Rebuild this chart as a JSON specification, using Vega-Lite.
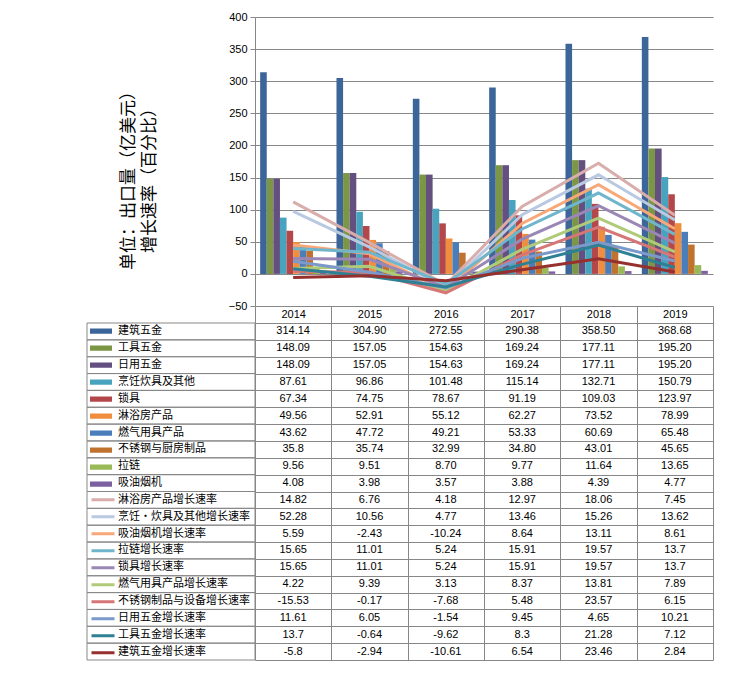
{
"$schema": "https://vega.github.io/schema/vega-lite/v6.json",
"padding": {"left": 86, "top": 11, "right": 10, "bottom": 10},
"datasets": {"rows": [
{"series":"建筑五金","kind":"bar","order":1,"year":"2014","value":314.14,"label":"314.14"},
{"series":"建筑五金","kind":"bar","order":1,"year":"2015","value":304.90,"label":"304.90"},
{"series":"建筑五金","kind":"bar","order":1,"year":"2016","value":272.55,"label":"272.55"},
{"series":"建筑五金","kind":"bar","order":1,"year":"2017","value":290.38,"label":"290.38"},
{"series":"建筑五金","kind":"bar","order":1,"year":"2018","value":358.50,"label":"358.50"},
{"series":"建筑五金","kind":"bar","order":1,"year":"2019","value":368.68,"label":"368.68"},
{"series":"工具五金","kind":"bar","order":2,"year":"2014","value":148.09,"label":"148.09"},
{"series":"工具五金","kind":"bar","order":2,"year":"2015","value":157.05,"label":"157.05"},
{"series":"工具五金","kind":"bar","order":2,"year":"2016","value":154.63,"label":"154.63"},
{"series":"工具五金","kind":"bar","order":2,"year":"2017","value":169.24,"label":"169.24"},
{"series":"工具五金","kind":"bar","order":2,"year":"2018","value":177.11,"label":"177.11"},
{"series":"工具五金","kind":"bar","order":2,"year":"2019","value":195.20,"label":"195.20"},
{"series":"日用五金","kind":"bar","order":3,"year":"2014","value":148.09,"label":"148.09"},
{"series":"日用五金","kind":"bar","order":3,"year":"2015","value":157.05,"label":"157.05"},
{"series":"日用五金","kind":"bar","order":3,"year":"2016","value":154.63,"label":"154.63"},
{"series":"日用五金","kind":"bar","order":3,"year":"2017","value":169.24,"label":"169.24"},
{"series":"日用五金","kind":"bar","order":3,"year":"2018","value":177.11,"label":"177.11"},
{"series":"日用五金","kind":"bar","order":3,"year":"2019","value":195.20,"label":"195.20"},
{"series":"烹饪炊具及其他","kind":"bar","order":4,"year":"2014","value":87.61,"label":"87.61"},
{"series":"烹饪炊具及其他","kind":"bar","order":4,"year":"2015","value":96.86,"label":"96.86"},
{"series":"烹饪炊具及其他","kind":"bar","order":4,"year":"2016","value":101.48,"label":"101.48"},
{"series":"烹饪炊具及其他","kind":"bar","order":4,"year":"2017","value":115.14,"label":"115.14"},
{"series":"烹饪炊具及其他","kind":"bar","order":4,"year":"2018","value":132.71,"label":"132.71"},
{"series":"烹饪炊具及其他","kind":"bar","order":4,"year":"2019","value":150.79,"label":"150.79"},
{"series":"锁具","kind":"bar","order":5,"year":"2014","value":67.34,"label":"67.34"},
{"series":"锁具","kind":"bar","order":5,"year":"2015","value":74.75,"label":"74.75"},
{"series":"锁具","kind":"bar","order":5,"year":"2016","value":78.67,"label":"78.67"},
{"series":"锁具","kind":"bar","order":5,"year":"2017","value":91.19,"label":"91.19"},
{"series":"锁具","kind":"bar","order":5,"year":"2018","value":109.03,"label":"109.03"},
{"series":"锁具","kind":"bar","order":5,"year":"2019","value":123.97,"label":"123.97"},
{"series":"淋浴房产品","kind":"bar","order":6,"year":"2014","value":49.56,"label":"49.56"},
{"series":"淋浴房产品","kind":"bar","order":6,"year":"2015","value":52.91,"label":"52.91"},
{"series":"淋浴房产品","kind":"bar","order":6,"year":"2016","value":55.12,"label":"55.12"},
{"series":"淋浴房产品","kind":"bar","order":6,"year":"2017","value":62.27,"label":"62.27"},
{"series":"淋浴房产品","kind":"bar","order":6,"year":"2018","value":73.52,"label":"73.52"},
{"series":"淋浴房产品","kind":"bar","order":6,"year":"2019","value":78.99,"label":"78.99"},
{"series":"燃气用具产品","kind":"bar","order":7,"year":"2014","value":43.62,"label":"43.62"},
{"series":"燃气用具产品","kind":"bar","order":7,"year":"2015","value":47.72,"label":"47.72"},
{"series":"燃气用具产品","kind":"bar","order":7,"year":"2016","value":49.21,"label":"49.21"},
{"series":"燃气用具产品","kind":"bar","order":7,"year":"2017","value":53.33,"label":"53.33"},
{"series":"燃气用具产品","kind":"bar","order":7,"year":"2018","value":60.69,"label":"60.69"},
{"series":"燃气用具产品","kind":"bar","order":7,"year":"2019","value":65.48,"label":"65.48"},
{"series":"不锈钢与厨房制品","kind":"bar","order":8,"year":"2014","value":35.8,"label":"35.8"},
{"series":"不锈钢与厨房制品","kind":"bar","order":8,"year":"2015","value":35.74,"label":"35.74"},
{"series":"不锈钢与厨房制品","kind":"bar","order":8,"year":"2016","value":32.99,"label":"32.99"},
{"series":"不锈钢与厨房制品","kind":"bar","order":8,"year":"2017","value":34.80,"label":"34.80"},
{"series":"不锈钢与厨房制品","kind":"bar","order":8,"year":"2018","value":43.01,"label":"43.01"},
{"series":"不锈钢与厨房制品","kind":"bar","order":8,"year":"2019","value":45.65,"label":"45.65"},
{"series":"拉链","kind":"bar","order":9,"year":"2014","value":9.56,"label":"9.56"},
{"series":"拉链","kind":"bar","order":9,"year":"2015","value":9.51,"label":"9.51"},
{"series":"拉链","kind":"bar","order":9,"year":"2016","value":8.70,"label":"8.70"},
{"series":"拉链","kind":"bar","order":9,"year":"2017","value":9.77,"label":"9.77"},
{"series":"拉链","kind":"bar","order":9,"year":"2018","value":11.64,"label":"11.64"},
{"series":"拉链","kind":"bar","order":9,"year":"2019","value":13.65,"label":"13.65"},
{"series":"吸油烟机","kind":"bar","order":10,"year":"2014","value":4.08,"label":"4.08"},
{"series":"吸油烟机","kind":"bar","order":10,"year":"2015","value":3.98,"label":"3.98"},
{"series":"吸油烟机","kind":"bar","order":10,"year":"2016","value":3.57,"label":"3.57"},
{"series":"吸油烟机","kind":"bar","order":10,"year":"2017","value":3.88,"label":"3.88"},
{"series":"吸油烟机","kind":"bar","order":10,"year":"2018","value":4.39,"label":"4.39"},
{"series":"吸油烟机","kind":"bar","order":10,"year":"2019","value":4.77,"label":"4.77"},
{"series":"淋浴房产品增长速率","kind":"line","order":11,"year":"2014","value":14.82,"label":"14.82"},
{"series":"淋浴房产品增长速率","kind":"line","order":11,"year":"2015","value":6.76,"label":"6.76"},
{"series":"淋浴房产品增长速率","kind":"line","order":11,"year":"2016","value":4.18,"label":"4.18"},
{"series":"淋浴房产品增长速率","kind":"line","order":11,"year":"2017","value":12.97,"label":"12.97"},
{"series":"淋浴房产品增长速率","kind":"line","order":11,"year":"2018","value":18.06,"label":"18.06"},
{"series":"淋浴房产品增长速率","kind":"line","order":11,"year":"2019","value":7.45,"label":"7.45"},
{"series":"烹饪·炊具及其他增长速率","kind":"line","order":12,"year":"2014","value":52.28,"label":"52.28"},
{"series":"烹饪·炊具及其他增长速率","kind":"line","order":12,"year":"2015","value":10.56,"label":"10.56"},
{"series":"烹饪·炊具及其他增长速率","kind":"line","order":12,"year":"2016","value":4.77,"label":"4.77"},
{"series":"烹饪·炊具及其他增长速率","kind":"line","order":12,"year":"2017","value":13.46,"label":"13.46"},
{"series":"烹饪·炊具及其他增长速率","kind":"line","order":12,"year":"2018","value":15.26,"label":"15.26"},
{"series":"烹饪·炊具及其他增长速率","kind":"line","order":12,"year":"2019","value":13.62,"label":"13.62"},
{"series":"吸油烟机增长速率","kind":"line","order":13,"year":"2014","value":5.59,"label":"5.59"},
{"series":"吸油烟机增长速率","kind":"line","order":13,"year":"2015","value":-2.43,"label":"-2.43"},
{"series":"吸油烟机增长速率","kind":"line","order":13,"year":"2016","value":-10.24,"label":"-10.24"},
{"series":"吸油烟机增长速率","kind":"line","order":13,"year":"2017","value":8.64,"label":"8.64"},
{"series":"吸油烟机增长速率","kind":"line","order":13,"year":"2018","value":13.11,"label":"13.11"},
{"series":"吸油烟机增长速率","kind":"line","order":13,"year":"2019","value":8.61,"label":"8.61"},
{"series":"拉链增长速率","kind":"line","order":14,"year":"2014","value":15.65,"label":"15.65"},
{"series":"拉链增长速率","kind":"line","order":14,"year":"2015","value":11.01,"label":"11.01"},
{"series":"拉链增长速率","kind":"line","order":14,"year":"2016","value":5.24,"label":"5.24"},
{"series":"拉链增长速率","kind":"line","order":14,"year":"2017","value":15.91,"label":"15.91"},
{"series":"拉链增长速率","kind":"line","order":14,"year":"2018","value":19.57,"label":"19.57"},
{"series":"拉链增长速率","kind":"line","order":14,"year":"2019","value":13.7,"label":"13.7"},
{"series":"锁具增长速率","kind":"line","order":15,"year":"2014","value":15.65,"label":"15.65"},
{"series":"锁具增长速率","kind":"line","order":15,"year":"2015","value":11.01,"label":"11.01"},
{"series":"锁具增长速率","kind":"line","order":15,"year":"2016","value":5.24,"label":"5.24"},
{"series":"锁具增长速率","kind":"line","order":15,"year":"2017","value":15.91,"label":"15.91"},
{"series":"锁具增长速率","kind":"line","order":15,"year":"2018","value":19.57,"label":"19.57"},
{"series":"锁具增长速率","kind":"line","order":15,"year":"2019","value":13.7,"label":"13.7"},
{"series":"燃气用具产品增长速率","kind":"line","order":16,"year":"2014","value":4.22,"label":"4.22"},
{"series":"燃气用具产品增长速率","kind":"line","order":16,"year":"2015","value":9.39,"label":"9.39"},
{"series":"燃气用具产品增长速率","kind":"line","order":16,"year":"2016","value":3.13,"label":"3.13"},
{"series":"燃气用具产品增长速率","kind":"line","order":16,"year":"2017","value":8.37,"label":"8.37"},
{"series":"燃气用具产品增长速率","kind":"line","order":16,"year":"2018","value":13.81,"label":"13.81"},
{"series":"燃气用具产品增长速率","kind":"line","order":16,"year":"2019","value":7.89,"label":"7.89"},
{"series":"不锈钢制品与设备增长速率","kind":"line","order":17,"year":"2014","value":-15.53,"label":"-15.53"},
{"series":"不锈钢制品与设备增长速率","kind":"line","order":17,"year":"2015","value":-0.17,"label":"-0.17"},
{"series":"不锈钢制品与设备增长速率","kind":"line","order":17,"year":"2016","value":-7.68,"label":"-7.68"},
{"series":"不锈钢制品与设备增长速率","kind":"line","order":17,"year":"2017","value":5.48,"label":"5.48"},
{"series":"不锈钢制品与设备增长速率","kind":"line","order":17,"year":"2018","value":23.57,"label":"23.57"},
{"series":"不锈钢制品与设备增长速率","kind":"line","order":17,"year":"2019","value":6.15,"label":"6.15"},
{"series":"日用五金增长速率","kind":"line","order":18,"year":"2014","value":11.61,"label":"11.61"},
{"series":"日用五金增长速率","kind":"line","order":18,"year":"2015","value":6.05,"label":"6.05"},
{"series":"日用五金增长速率","kind":"line","order":18,"year":"2016","value":-1.54,"label":"-1.54"},
{"series":"日用五金增长速率","kind":"line","order":18,"year":"2017","value":9.45,"label":"9.45"},
{"series":"日用五金增长速率","kind":"line","order":18,"year":"2018","value":4.65,"label":"4.65"},
{"series":"日用五金增长速率","kind":"line","order":18,"year":"2019","value":10.21,"label":"10.21"},
{"series":"工具五金增长速率","kind":"line","order":19,"year":"2014","value":13.7,"label":"13.7"},
{"series":"工具五金增长速率","kind":"line","order":19,"year":"2015","value":-0.64,"label":"-0.64"},
{"series":"工具五金增长速率","kind":"line","order":19,"year":"2016","value":-9.62,"label":"-9.62"},
{"series":"工具五金增长速率","kind":"line","order":19,"year":"2017","value":8.3,"label":"8.3"},
{"series":"工具五金增长速率","kind":"line","order":19,"year":"2018","value":21.28,"label":"21.28"},
{"series":"工具五金增长速率","kind":"line","order":19,"year":"2019","value":7.12,"label":"7.12"},
{"series":"建筑五金增长速率","kind":"line","order":20,"year":"2014","value":-5.8,"label":"-5.8"},
{"series":"建筑五金增长速率","kind":"line","order":20,"year":"2015","value":-2.94,"label":"-2.94"},
{"series":"建筑五金增长速率","kind":"line","order":20,"year":"2016","value":-10.61,"label":"-10.61"},
{"series":"建筑五金增长速率","kind":"line","order":20,"year":"2017","value":6.54,"label":"6.54"},
{"series":"建筑五金增长速率","kind":"line","order":20,"year":"2018","value":23.46,"label":"23.46"},
{"series":"建筑五金增长速率","kind":"line","order":20,"year":"2019","value":2.84,"label":"2.84"}
]},
"columns": 2,
"spacing": {"row": 17, "column": 0},
"bounds": "flush",
"align": "each",
"resolve": {"scale": {"x": "independent", "y": "independent", "color": "independent"}},
"concat": [
{
 "width": 168, "height": 289,
 "data": {"values": [{}]},
 "mark": {"type": "text"},
 "encoding": {"text": {"value": ""}}
},
{
 "width": 458, "height": 289,
 "data": {"name": "rows"},
 "encoding": {"x": {"field": "year", "type": "nominal", "scale": {"paddingInner": 0, "paddingOuter": 0}, "axis": null}},
 "layer": [
  {
   "transform": [{"filter": "datum.kind == 'bar'"}],
   "mark": {"type": "bar"},
   "encoding": {
    "xOffset": {"field": "series", "type": "nominal", "sort": ["建筑五金","工具五金","日用五金","烹饪炊具及其他","锁具","淋浴房产品","燃气用具产品","不锈钢与厨房制品","拉链","吸油烟机"], "scale": {"paddingInner": 0, "paddingOuter": 0.78}},
    "y": {"field": "value", "type": "quantitative", "scale": {"domain": [-50, 400], "nice": false, "zero": false},
      "axis": {"values": [-50,0,50,100,150,200,250,300,350,400], "title": ["单位：出口量（亿美元）","增长速率（百分比）"], "titleFont": "Noto Sans CJK SC", "titleFontSize": 17, "titleFontWeight": "normal", "titleColor": "#000000", "titleLineHeight": 21, "titlePadding": 70, "titleY": 159, "grid": true, "gridColor": "#878787", "gridWidth": 1, "domainColor": "#878787", "tickColor": "#878787", "tickSize": 5, "labelFont": "Liberation Sans", "labelFontSize": 11, "labelColor": "#000000", "labelPadding": 3}},
    "color": {"field": "series", "type": "nominal",
      "scale": {"domain": ["建筑五金","工具五金","日用五金","烹饪炊具及其他","锁具","淋浴房产品","燃气用具产品","不锈钢与厨房制品","拉链","吸油烟机"], "range": ["#3C6699","#7B9645","#634F80","#48A4BE","#B4474A","#EF8E3E","#4A7EBB","#C0722F","#98B955","#7D60A0"]},
      "legend": {"orient": "none", "legendX": -165, "legendY": 305.7, "title": null, "direction": "vertical", "symbolType": "M-1,-0.24H1V0.24H-1Z", "symbolSize": 484, "symbolStrokeWidth": 0, "symbolOpacity": 1, "labelExpr": "''", "labelFontSize": 1, "clipHeight": 16.85, "rowPadding": 0, "padding": 0}}
   }
  },
  {
   "transform": [
    {"filter": "datum.kind == 'line'"},
    {"window": [{"op": "sum", "field": "value", "as": "stacked"}], "groupby": ["year"], "sort": [{"field": "order", "order": "descending"}], "frame": [null, 0]}
   ],
   "mark": {"type": "line", "strokeWidth": 3},
   "encoding": {
    "y": {"field": "stacked", "type": "quantitative",
      "axis": {"values": [-50,0,50,100,150,200,250,300,350,400], "title": ["单位：出口量（亿美元）","增长速率（百分比）"], "titleFont": "Noto Sans CJK SC", "titleFontSize": 17, "titleFontWeight": "normal", "titleColor": "#000000", "titleLineHeight": 21, "titlePadding": 70, "titleY": 159, "grid": true, "gridColor": "#878787", "gridWidth": 1, "domainColor": "#878787", "tickColor": "#878787", "tickSize": 5, "labelFont": "Liberation Sans", "labelFontSize": 11, "labelColor": "#000000", "labelPadding": 3}},
    "color": {"field": "series", "type": "nominal",
      "scale": {"domain": ["淋浴房产品增长速率","烹饪·炊具及其他增长速率","吸油烟机增长速率","拉链增长速率","锁具增长速率","燃气用具产品增长速率","不锈钢制品与设备增长速率","日用五金增长速率","工具五金增长速率","建筑五金增长速率"], "range": ["#D8ADAC","#B8C9E1","#F8A878","#6FB6CD","#9B87B6","#AFCB7A","#D67676","#7B9ACB","#2E8094","#96302E"]},
      "legend": {"orient": "none", "legendX": -165, "legendY": 474.2, "title": null, "direction": "vertical", "symbolType": "stroke", "symbolSize": 529, "symbolStrokeWidth": 3, "symbolOpacity": 1, "labelExpr": "''", "labelFontSize": 1, "clipHeight": 16.85, "rowPadding": 0, "padding": 0}}
   }
  }
 ],
 "resolve": {"scale": {"color": "independent"}}
},
{
 "width": 168, "height": 337,
 "data": {"name": "rows"},
 "transform": [{"filter": "datum.year == '2014'"}],
 "mark": {"type": "rect", "fill": "transparent", "stroke": "#878787", "strokeWidth": 1},
 "encoding": {
  "y": {"field": "series", "type": "nominal",
    "sort": ["建筑五金","工具五金","日用五金","烹饪炊具及其他","锁具","淋浴房产品","燃气用具产品","不锈钢与厨房制品","拉链","吸油烟机","淋浴房产品增长速率","烹饪·炊具及其他增长速率","吸油烟机增长速率","拉链增长速率","锁具增长速率","燃气用具产品增长速率","不锈钢制品与设备增长速率","日用五金增长速率","工具五金增长速率","建筑五金增长速率"],
    "scale": {"paddingInner": 0, "paddingOuter": 0},
    "axis": {"orient": "left", "title": null, "ticks": false, "tickSize": 0, "domain": false, "grid": false, "labelAlign": "left", "labelPadding": -30.5, "labelFont": "Noto Sans CJK SC", "labelFontSize": 11, "labelColor": "#000000", "labelLimit": 0, "zindex": 1}}
 }
},
{
 "width": 458, "height": 337,
 "data": {"name": "rows"},
 "mark": {"type": "text", "font": "Liberation Sans", "fontSize": 11, "color": "#000000"},
 "encoding": {
  "x": {"field": "year", "type": "nominal", "scale": {"paddingInner": 0, "paddingOuter": 0},
    "axis": {"orient": "top", "title": null, "tickBand": "extent", "tickSize": 17, "tickColor": "#878787", "labelAngle": 0, "labelBaseline": "middle", "labelPadding": -8.7, "labelFont": "Liberation Sans", "labelFontSize": 11, "labelColor": "#000000", "domainColor": "#878787", "grid": true, "gridColor": "#878787", "gridWidth": 1}},
  "y": {"field": "series", "type": "nominal",
    "sort": ["建筑五金","工具五金","日用五金","烹饪炊具及其他","锁具","淋浴房产品","燃气用具产品","不锈钢与厨房制品","拉链","吸油烟机","淋浴房产品增长速率","烹饪·炊具及其他增长速率","吸油烟机增长速率","拉链增长速率","锁具增长速率","燃气用具产品增长速率","不锈钢制品与设备增长速率","日用五金增长速率","工具五金增长速率","建筑五金增长速率"],
    "scale": {"paddingInner": 0, "paddingOuter": 0},
    "axis": {"title": null, "labels": false, "ticks": false, "domain": false, "grid": true, "tickBand": "extent", "gridColor": "#878787", "gridWidth": 1}},
  "text": {"field": "label"}
 }
}
],
"config": {"view": {"stroke": null}, "font": "Noto Sans CJK SC"}
}
